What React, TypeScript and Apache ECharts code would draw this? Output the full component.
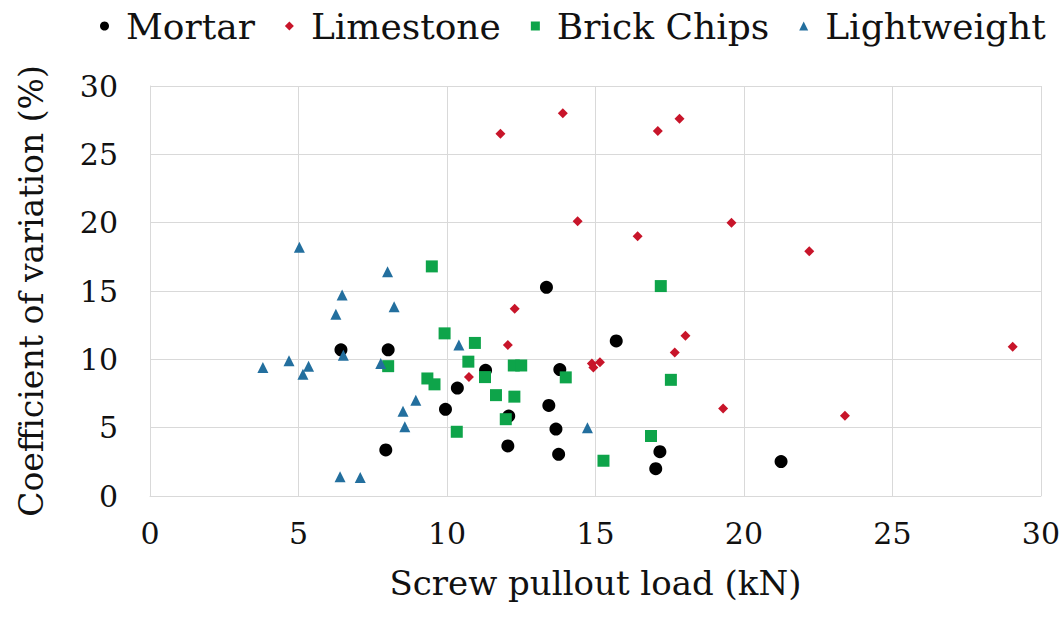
import React, { useEffect, useRef } from "react";
import * as echarts from "echarts";

const seriesNames = ["Mortar", "Limestone", "Brick Chips", "Lightweight"];
const xTicks = [0, 5, 10, 15, 20, 25, 30];
const yTicks = [0, 5, 10, 15, 20, 25, 30];

const mortar: number[][] = [
  [6.43, 10.7], [8.02, 10.7], [7.94, 3.37], [11.3, 9.2], [10.35, 7.9], [9.95, 6.34],
  [13.35, 15.27], [15.7, 11.35], [13.8, 9.25], [13.43, 6.63], [12.08, 5.85], [13.67, 4.9],
  [12.05, 3.66], [13.76, 3.05], [17.17, 3.24], [17.03, 2.0], [21.25, 2.52],
];
const limestone: number[][] = [
  [11.8, 26.5], [13.9, 28.0], [17.1, 26.7], [17.83, 27.6], [14.4, 20.1], [16.42, 19.0],
  [19.58, 20.0], [22.2, 17.9], [12.28, 13.7], [12.05, 11.05], [10.74, 8.7], [14.88, 9.7],
  [15.15, 9.78], [14.93, 9.4], [17.67, 10.5], [18.03, 11.73], [19.3, 6.4], [23.4, 5.87],
  [29.05, 10.92],
];
const brickChips: number[][] = [
  [9.49, 16.8], [9.92, 11.9], [10.94, 11.2], [10.72, 9.83], [8.02, 9.5], [11.28, 8.7],
  [9.34, 8.6], [9.58, 8.17], [11.65, 7.38], [12.27, 7.27], [10.33, 4.7], [12.25, 9.55],
  [12.5, 9.55], [14.0, 8.68], [17.2, 15.36], [17.54, 8.5], [11.98, 5.62], [15.27, 2.58],
  [16.87, 4.39],
];
const lightweight: number[][] = [
  [5.03, 18.2], [8.0, 16.4], [6.47, 14.7], [6.26, 13.3], [8.22, 13.85], [6.51, 10.3],
  [4.68, 9.9], [3.8, 9.4], [5.34, 9.5], [5.15, 8.9], [7.77, 9.7], [6.4, 1.4], [7.08, 1.35],
  [10.4, 11.05], [8.95, 7.0], [8.52, 6.2], [8.58, 5.07], [14.73, 5.0],
];

const FONT = "DejaVu Serif";

export default function App() {
  const ref = useRef<HTMLDivElement>(null);
  useEffect(() => {
    if (!ref.current) return;
    const chart = echarts.init(ref.current, null, { renderer: "svg" });
    const gridColor = "#d9d9d9";
    chart.setOption({
      animation: false,
      backgroundColor: "#ffffff",
      textStyle: { fontFamily: FONT },
      legend: {
        data: seriesNames,
        left: 100,
        right: 0,
        top: 8,
        padding: 0,
        itemGap: 30,
        itemWidth: 9,
        itemHeight: 9,
        textStyle: { fontFamily: FONT, fontSize: 36, color: "#111", padding: [0, 0, 0, 12] },
      },
      grid: { left: 150, right: 19, top: 86, bottom: 121 },
      xAxis: {
        type: "value",
        min: xTicks[0],
        max: xTicks[xTicks.length - 1],
        interval: 5,
        name: "Screw pullout load (kN)",
        nameLocation: "middle",
        nameGap: 70,
        nameTextStyle: { fontFamily: FONT, fontSize: 34, color: "#111" },
        axisLine: { show: true, lineStyle: { color: gridColor } },
        axisTick: { show: false },
        axisLabel: { fontFamily: FONT, fontSize: 30, color: "#111", margin: 22 },
        splitLine: { show: true, lineStyle: { color: gridColor, width: 1 } },
      },
      yAxis: {
        type: "value",
        min: yTicks[0],
        max: yTicks[yTicks.length - 1],
        interval: 5,
        name: "Coefficient of variation (%)",
        nameLocation: "middle",
        nameGap: 102,
        nameTextStyle: { fontFamily: FONT, fontSize: 33, color: "#111" },
        axisLine: { show: true, lineStyle: { color: gridColor } },
        axisTick: { show: false },
        axisLabel: { fontFamily: FONT, fontSize: 30, color: "#111", margin: 32 },
        splitLine: { show: true, lineStyle: { color: gridColor, width: 1 } },
      },
      series: [
        {
          name: seriesNames[0],
          type: "scatter",
          data: mortar,
          symbol: "circle",
          symbolSize: 13,
          itemStyle: { color: "#000000", opacity: 1 },
        },
        {
          name: seriesNames[1],
          type: "scatter",
          data: limestone,
          symbol: "diamond",
          symbolSize: 10,
          itemStyle: { color: "#c8152a", opacity: 1 },
        },
        {
          name: seriesNames[2],
          type: "scatter",
          data: brickChips,
          symbol: "rect",
          symbolSize: 12,
          itemStyle: { color: "#0ea44a", opacity: 1 },
        },
        {
          name: seriesNames[3],
          type: "scatter",
          data: lightweight,
          symbol: "triangle",
          symbolSize: 11,
          itemStyle: { color: "#236f9e", opacity: 1 },
        },
      ],
    });
    return () => chart.dispose();
  }, []);
  return (
    <div
      ref={ref}
      style={{ position: "fixed", left: 0, top: 0, width: 1063, height: 617, background: "#fff" }}
    />
  );
}
